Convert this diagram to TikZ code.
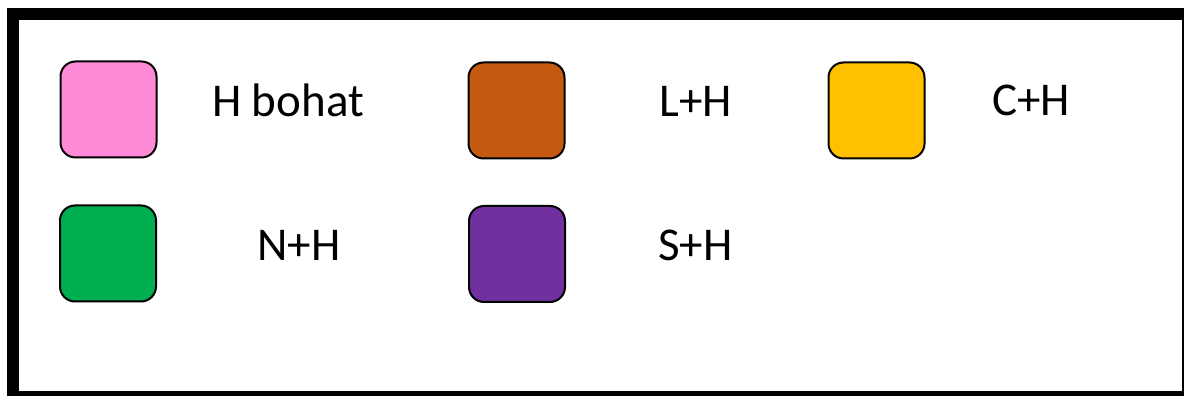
\documentclass[tikz,border=0pt]{standalone}
\usepackage{fontspec}
\setmainfont{Carlito}
\definecolor{cpink}{HTML}{FF8AD8}
\definecolor{corange}{HTML}{C55A11}
\definecolor{cyellow}{HTML}{FFC000}
\definecolor{cgreen}{HTML}{00B050}
\definecolor{cpurple}{HTML}{7030A0}
\begin{document}
\begin{tikzpicture}[x=1pt,y=1pt,
  swatch/.style={draw=black,line width=2pt,rounded corners=15pt,minimum width=96pt,minimum height=96pt,inner sep=0pt},
  lbl/.style={anchor=base,font=\fontsize{47}{56}\selectfont,inner sep=0pt}]
\useasboundingbox (0,0) rectangle (1184,396);
\fill[white] (0,0) rectangle (1184,396);
\draw[line width=12pt] (12.5,382) rectangle (1188,-1);
\node[swatch,fill=cpink]   (s1) at (108.5,286.5) {};
\node[swatch,fill=corange] (s2) at (516.5,285.5) {};
\node[swatch,fill=cyellow] (s3) at (876.5,285.5) {};
\node[swatch,fill=cgreen]  (s4) at (108,142.5) {};
\node[swatch,fill=cpurple] (s5) at (517,142) {};
\node[lbl] (t1) at (288,279) {H bohat};
\node[lbl] (t2) at (695.5,279) {L+H};
\node[lbl] (t3) at (1031,280) {C+H};
\node[lbl] (t4) at (299,135) {N+H};
\node[lbl] (t5) at (695.5,135) {S+H};
\end{tikzpicture}
\end{document}
